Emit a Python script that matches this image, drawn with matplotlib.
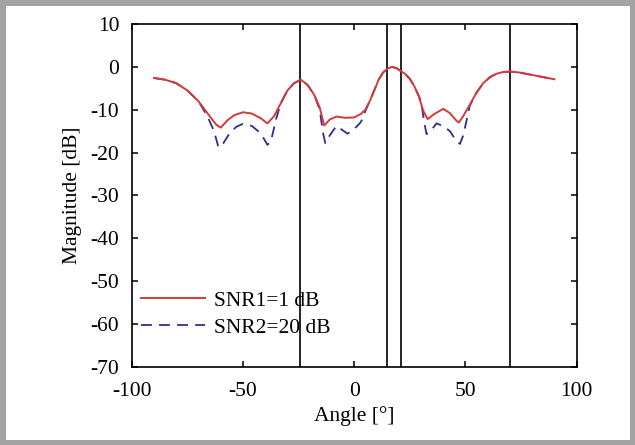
import matplotlib
matplotlib.use('Agg')
import matplotlib.pyplot as plt

# beam pattern, SNR1 = 1 dB (solid red)
angle_snr1 = [-90, -85, -80, -75, -70, -66, -62, -60, -57, -54, -50, -46, -42, -39,
              -36, -33, -30, -27, -24, -21, -18, -15.5, -13.5, -11, -8, -4, 0, 3, 5,
              7, 9, 11, 13, 15, 17, 19, 21, 23, 25, 27, 29, 31, 33, 36, 40, 43, 46,
              47, 49, 52, 55, 58, 61, 64, 67, 70, 74, 78, 82, 86, 90]
mag_snr1 = [-2.6, -3.0, -3.8, -5.5, -8.0, -10.8, -13.5, -14.2, -12.5, -11.3, -10.6,
            -10.9, -12.0, -13.2, -11.5, -8.5, -5.5, -3.8, -3.0, -4.2, -6.5, -9.5,
            -13.7, -12.3, -11.6, -11.9, -11.8, -11.0, -10.0, -8.0, -5.5, -3.0, -1.3,
            -0.4, 0.0, -0.3, -1.0, -1.7, -2.8, -4.5, -6.8, -10.2, -12.2, -11.0, -9.8,
            -10.8, -12.6, -13.0, -11.5, -8.8, -6.0, -3.8, -2.4, -1.6, -1.2, -1.1,
            -1.3, -1.7, -2.1, -2.5, -2.9]

# beam pattern, SNR2 = 20 dB (dashed blue)
angle_snr2 = [-90, -85, -80, -75, -70, -66, -63, -61, -59, -56, -53, -50, -46, -42,
              -39, -37.5, -35, -33, -30, -27, -24, -21, -18, -15.5, -14, -13, -11, -8,
              -6, -3, 0, 2.5, 4, 5, 7, 9, 11, 13, 15, 17, 19, 21, 23, 25, 27, 29, 30,
              31.5, 32.5, 34, 37, 40, 43, 45.5, 47.5, 49, 50.5, 52, 55, 58, 61, 64,
              67, 70, 74, 78, 82, 86, 90]
mag_snr2 = [-2.6, -3.0, -3.8, -5.5, -8.0, -11.5, -15.0, -18.8, -18.0, -15.5, -14.0,
            -13.3, -13.8, -15.5, -18.2, -17.5, -12.0, -8.5, -5.5, -3.8, -3.0, -4.2,
            -6.5, -10.0, -15.5, -17.8, -16.0, -13.8, -14.5, -15.6, -14.5, -13.2,
            -12.0, -10.3, -8.0, -5.5, -3.0, -1.3, -0.4, 0.0, -0.3, -1.0, -1.7, -2.8,
            -4.5, -6.8, -8.0, -13.0, -15.7, -15.2, -13.2, -13.8, -15.0, -17.0, -18.0,
            -16.0, -12.5, -9.0, -6.0, -3.8, -2.4, -1.6, -1.2, -1.1, -1.3, -1.7, -2.1,
            -2.5, -2.9]

# marker lines (true directions)
source_angles = [-24.4, 14.6, 20.9, 70]

plt.rcParams['font.family'] = ['Liberation Serif', 'DejaVu Serif']
plt.rcParams['font.size'] = 15.5
plt.rcParams['axes.unicode_minus'] = False

fig = plt.figure(figsize=(6.35, 4.45), dpi=100)
fig.patch.set_edgecolor('#a3a3a3')
fig.patch.set_linewidth(6.5)
ax = fig.add_axes([0.2074, 0.176, 0.7008, 0.770])

for a in source_angles:
    ax.axvline(a, color='black', lw=1.2, zorder=1)

ax.plot(angle_snr1, mag_snr1, color='#d23a3a', lw=1.4, label='SNR1=1 dB', zorder=3)
ax.plot(angle_snr2, mag_snr2, color='#2e2e8c', lw=1.3, dashes=(6, 4),
        label='SNR2=20 dB', zorder=2)

ax.set_xlim(-100, 100)
ax.set_ylim(-70, 10)
ax.set_xticks([-100, -50, 0, 50, 100])
ax.set_yticks(range(-70, 11, 10))
ax.tick_params(direction='in', top=True, right=True, length=4, width=1.1)
ax.tick_params(axis='x', pad=11)
ax.tick_params(axis='y', pad=9)
for s in ax.spines.values():
    s.set_linewidth(1.2)

ax.set_xlabel('Angle [°]', labelpad=4)
ax.set_ylabel('Magnitude [dB]', labelpad=6)

leg = ax.legend(loc='lower left', bbox_to_anchor=(0.02, 0.085), frameon=False,
                borderaxespad=0, borderpad=0, handlelength=3.0,
                handletextpad=0.4, labelspacing=0.3)

fig.savefig('out.png', dpi=100)
